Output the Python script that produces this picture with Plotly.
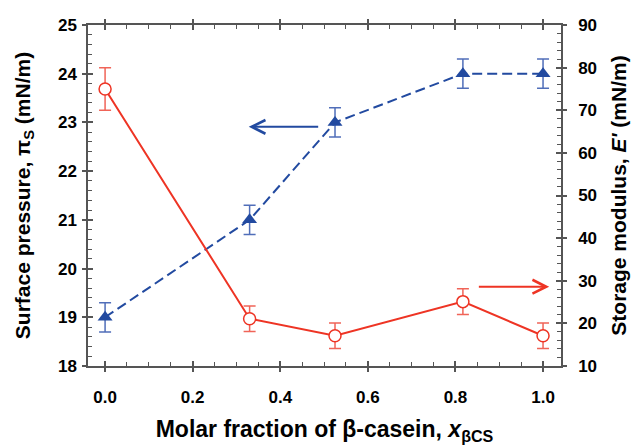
import plotly.graph_objects as go

# ---- data ----
x_frac = [0.0, 0.33, 0.525, 0.817, 1.0]
surface_pressure = [19.0, 21.0, 23.0, 24.0, 24.0]
surface_pressure_err = [0.3, 0.3, 0.3, 0.3, 0.3]
storage_modulus = [75.0, 21.1, 17.1, 25.1, 17.1]
storage_modulus_err = [5.0, 3.0, 3.0, 3.0, 3.0]

x_ticks = [0.0, 0.2, 0.4, 0.6, 0.8, 1.0]
x_ticklabels = ["0.0", "0.2", "0.4", "0.6", "0.8", "1.0"]
y_ticks = [18, 19, 20, 21, 22, 23, 24, 25]
y2_ticks = [10, 20, 30, 40, 50, 60, 70, 80, 90]

# arrows (data units): tip x, tail x, level
blue_arrow = dict(tip=0.328, tail=0.49, level=22.91)
red_arrow = dict(tip=1.014, tail=0.85, level=28.6)

XR = [-0.039, 1.041]
YR = [18, 25]
Y2R = [10, 90]

RED = "rgb(238,52,36)"
RED_ERR = "rgb(240,100,88)"
BLUE = "rgb(34,74,160)"
BLUE_ERR = "rgb(80,110,185)"
AX = "rgb(85,85,85)"
FONT = "Liberation Sans, Arial, sans-serif"

fig = go.Figure()

fig.add_trace(go.Scatter(
    x=x_frac, y=surface_pressure, mode="lines+markers",
    line=dict(color=BLUE, width=2, dash="10px,5px"),
    marker=dict(symbol="triangle-up", size=13, color=BLUE, line=dict(width=0)),
    error_y=dict(type="data", array=surface_pressure_err, color=BLUE_ERR, thickness=1.5, width=6),
    showlegend=False, xaxis="x", yaxis="y"))

fig.add_trace(go.Scatter(
    x=x_frac, y=storage_modulus, mode="lines+markers",
    line=dict(color=RED, width=2),
    marker=dict(symbol="circle", size=12, color="white", line=dict(color=RED, width=1.5)),
    error_y=dict(type="data", array=storage_modulus_err, color=RED_ERR, thickness=1.5, width=6),
    showlegend=False, xaxis="x", yaxis="y2"))

# invisible traces to activate the outward-tick overlay axes
fig.add_trace(go.Scatter(x=[None], y=[None], xaxis="x3", yaxis="y3", showlegend=False, hoverinfo="skip"))
fig.add_trace(go.Scatter(x=[None], y=[None], xaxis="x3", yaxis="y4", showlegend=False, hoverinfo="skip"))

tickfont = dict(family=FONT, size=17, color="black", weight="bold")
titlefont = dict(family=FONT, size=21, color="black", weight="bold")

fig.update_layout(
    width=633, height=445,
    margin=dict(l=88, r=72, t=25, b=79),
    paper_bgcolor="white", plot_bgcolor="white",
    xaxis=dict(
        range=XR, autorange=False, tickmode="array", tickvals=x_ticks, ticktext=x_ticklabels,
        ticks="inside", ticklen=5, tickwidth=1.5, tickcolor=AX, automargin=False,
        minor=dict(dtick=0.05, tick0=0, ticks="inside", ticklen=4, tickwidth=1, tickcolor=AX),
        showline=True, linecolor=AX, linewidth=1.5, mirror="ticks",
        showgrid=False, zeroline=False, tickfont=tickfont, ticklabelstandoff=15,
        title=dict(text="Molar fraction of β-casein, <i>x</i><sub>βCS</sub>",
                   font=dict(family=FONT, size=23, color="black", weight="bold"), standoff=16),
    ),
    yaxis=dict(
        range=YR, autorange=False, tickmode="array", tickvals=y_ticks,
        ticks="inside", ticklen=5, tickwidth=1.5, tickcolor=AX, automargin=False,
        minor=dict(dtick=0.2, tick0=18, ticks="inside", ticklen=4, tickwidth=1, tickcolor=AX),
        showline=True, linecolor=AX, linewidth=1.5,
        showgrid=False, zeroline=False, tickfont=tickfont, ticklabelstandoff=6,
        title=dict(text="Surface pressure, π<sub>S</sub> (mN/m)", font=titlefont, standoff=22),
    ),
    yaxis2=dict(
        range=Y2R, autorange=False, tickmode="array", tickvals=y2_ticks,
        overlaying="y", side="right", anchor="x", automargin=False,
        ticks="inside", ticklen=5, tickwidth=1.5, tickcolor=AX,
        minor=dict(dtick=2, tick0=10, ticks="inside", ticklen=4, tickwidth=1, tickcolor=AX),
        showline=True, linecolor=AX, linewidth=1.5,
        showgrid=False, zeroline=False, tickfont=tickfont, ticklabelstandoff=12,
        title=dict(text="Storage modulus, <i>E'</i> (mN/m)", font=titlefont, standoff=15),
    ),
    xaxis3=dict(
        range=XR, autorange=False, overlaying="x", anchor="y3", tickmode="array", tickvals=x_ticks,
        ticks="outside", ticklen=5, tickwidth=1.5, tickcolor=AX, mirror="ticks", automargin=False,
        showline=False, showticklabels=False, showgrid=False, zeroline=False,
    ),
    yaxis3=dict(
        range=YR, autorange=False, overlaying="y", anchor="x3", side="left", tickmode="array", tickvals=y_ticks,
        ticks="outside", ticklen=5, tickwidth=1.5, tickcolor=AX, automargin=False,
        showline=False, showticklabels=False, showgrid=False, zeroline=False,
    ),
    yaxis4=dict(
        range=Y2R, autorange=False, overlaying="y", anchor="x3", side="right", tickmode="array", tickvals=y2_ticks,
        ticks="outside", ticklen=5, tickwidth=1.5, tickcolor=AX, automargin=False,
        showline=False, showticklabels=False, showgrid=False, zeroline=False,
    ),
)

fig.add_annotation(
    x=blue_arrow["tip"], y=blue_arrow["level"], ax=blue_arrow["tail"], ay=blue_arrow["level"],
    xref="x", yref="y", axref="x", ayref="y", text="", showarrow=True,
    arrowhead=5, arrowsize=1.35, arrowwidth=2, arrowcolor=BLUE, standoff=0, startstandoff=0)

fig.add_annotation(
    x=red_arrow["tip"], y=red_arrow["level"], ax=red_arrow["tail"], ay=red_arrow["level"],
    xref="x", yref="y2", axref="x", ayref="y2", text="", showarrow=True,
    arrowhead=5, arrowsize=1.35, arrowwidth=2, arrowcolor=RED, standoff=0, startstandoff=0)

fig.write_html("out.html")
